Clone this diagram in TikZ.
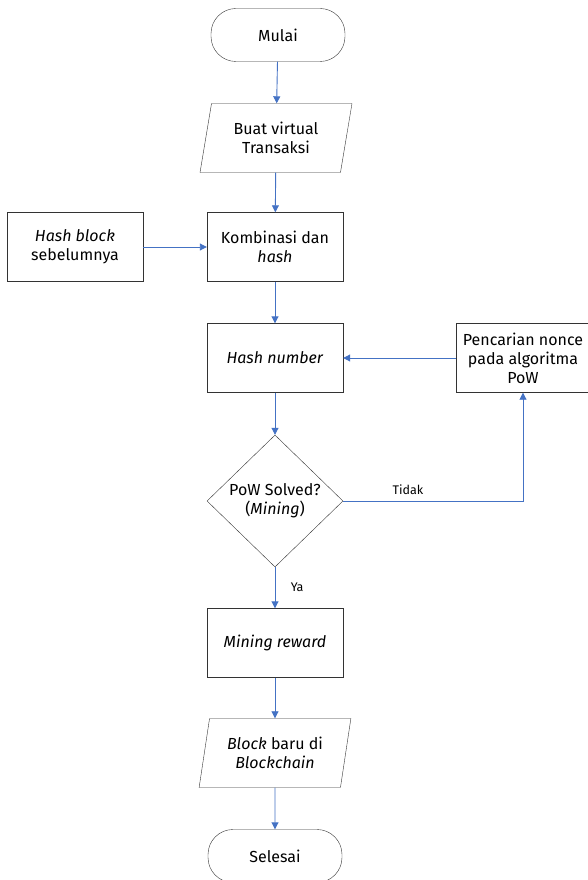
\documentclass[tikz,border=0pt]{standalone}
\usepackage{fontspec}
\setmainfont{Fira Sans}
\usetikzlibrary{shapes.geometric,arrows.meta}
\definecolor{garis}{RGB}{68,114,196}
\tikzset{
    terminal/.style={draw=black!80, rounded corners=25pt, minimum width=134pt, minimum height=53pt, align=center},
    proses/.style={draw=black!80, minimum width=136pt, minimum height=69pt, align=center},
    data/.style={draw=black!80, trapezium, trapezium left angle=78, trapezium right angle=102, minimum width=152pt, minimum height=69pt, trapezium stretches=true, align=center},
    keputusan/.style={draw=black!80, diamond, minimum width=136pt, minimum height=132pt, inner sep=0pt, aspect=1, align=center},
    alur/.style={draw=garis, line width=0.9pt, -{Triangle[width=7pt,length=7pt]}},
    kecil/.style={font=\fontsize{12.5}{15}\selectfont},
}
\begin{document}
\begin{tikzpicture}[x=1pt, y=-1pt, font=\fontsize{16}{19}\selectfont]
    \useasboundingbox (0,0) rectangle (588,880);
    % Simpul
    \node[terminal] (mulai) at (278,35) {Mulai};
    \node[data] (buat) at (276,138) {Buat virtual\\Transaksi};
    \node[proses] (hashlama) at (75,247) {\textit{Hash block}\\sebelumnya};
    \node[proses] (kombinasi) at (275,247) {Kombinasi dan\\\textit{hash}};
    \node[proses] (hashnum) at (275,358) {\textit{Hash number}};
    \node[proses, minimum width=134pt, inner xsep=0pt] (nonce) at (523,358) {Pencarian nonce\\pada algoritma\\PoW};
    \node[keputusan] (pow) at (275,501) {PoW Solved?\\(\textit{Mining})};
    \node[proses] (reward) at (275,643) {\textit{Mining reward}};
    \node[data] (baru) at (275,753) {\textit{Block} baru di\\\textit{Blockchain}};
    \node[terminal] (selesai) at (275,856) {Selesai};
    % Alur
    \draw[alur] (mulai) -- (buat);
    \draw[alur] (buat) -- (kombinasi);
    \draw[alur] (hashlama) -- (kombinasi);
    \draw[alur] (kombinasi) -- (hashnum);
    \draw[alur] (nonce) -- (hashnum);
    \draw[alur] (hashnum) -- (pow);
    \draw[alur] (pow.east) -| (nonce.south) node[pos=0.18, above=3pt, kecil] {Tidak};
    \draw[alur] (pow) -- (reward) node[midway, right=12pt, kecil] {Ya};
    \draw[alur] (reward) -- (baru);
    \draw[alur] (baru) -- (selesai);
\end{tikzpicture}
\end{document}
